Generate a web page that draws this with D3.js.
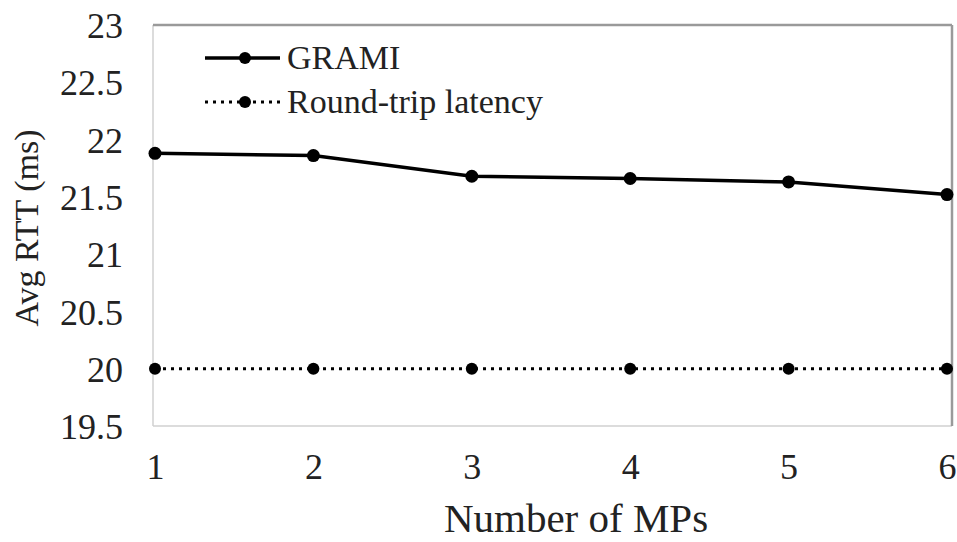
<!DOCTYPE html>
<html><head><meta charset="utf-8">
<script src="https://cdn.jsdelivr.net/npm/d3@7"></script>
</head><body style="margin:0;background:#fff"><svg id="c" width="957" height="542" style="display:block"></svg>
<script>
const categories = [1, 2, 3, 4, 5, 6];
const grami = [21.88, 21.86, 21.68, 21.66, 21.63, 21.52];
const rtt = [20, 20, 20, 20, 20, 20];
const yTicks = [19.5, 20, 20.5, 21, 21.5, 22, 22.5, 23];
const seriesNames = ["GRAMI", "Round-trip latency"];

const FONT = "Liberation Serif";
const svg = d3.select("#c");
const x = d3.scaleLinear().domain([1, 6]).range([155, 947]);
const y = d3.scaleLinear().domain([19.5, 23]).range([426, 25]);

function txt(sel){ return sel.attr("font-family", FONT).style("font-family", `"${FONT}"`).attr("fill","#222"); }

// frame
svg.append("line").attr("x1",153).attr("x2",153).attr("y1",25).attr("y2",426).attr("stroke","#d0d0d0").attr("stroke-width",1.5);
svg.append("line").attr("x1",153).attr("x2",952).attr("y1",426).attr("y2",426).attr("stroke","#d0d0d0").attr("stroke-width",1.5);
svg.append("line").attr("x1",153).attr("x2",952).attr("y1",25).attr("y2",25).attr("stroke","#9a9a9a").attr("stroke-width",2.5);
svg.append("line").attr("x1",952).attr("x2",952).attr("y1",25).attr("y2",426).attr("stroke","#9a9a9a").attr("stroke-width",2.5);

// y ticks
const yAxis = svg.append("g").attr("transform","translate(123,0)")
  .call(d3.axisLeft(y).tickValues(yTicks).tickSize(0).tickPadding(0).tickFormat(d => d3.format("")(d)));
yAxis.attr("font-family", FONT);
yAxis.select(".domain").remove();
txt(yAxis.selectAll("text").attr("font-size",36).attr("dy","0.35em"));

// x ticks
const xAxis = svg.append("g").attr("transform","translate(0,479)")
  .call(d3.axisBottom(x).tickValues(categories).tickSize(0).tickPadding(0).tickFormat(d3.format("d")));
xAxis.attr("font-family", FONT);
xAxis.select(".domain").remove();
txt(xAxis.selectAll("text").attr("font-size",36).attr("dy",0));

// axis titles
txt(svg.append("text").attr("x",576).attr("y",532).attr("text-anchor","middle").attr("font-size",41)).text("Number of MPs");
txt(svg.append("text").attr("transform","translate(38,228) rotate(-90)").attr("text-anchor","middle").attr("font-size",34)).text("Avg RTT (ms)");

const line = d3.line().x((d,i) => x(categories[i])).y(d => y(d));

// latency dotted
svg.append("path").datum(rtt).attr("d",line).attr("fill","none").attr("stroke","#000")
  .attr("stroke-width",3).attr("stroke-dasharray","3,5");
svg.selectAll("circle.r").data(rtt).enter().append("circle").attr("class","r")
  .attr("cx",(d,i)=>x(categories[i])).attr("cy",d=>y(d)).attr("r",6).attr("fill","#000");

// GRAMI
svg.append("path").datum(grami).attr("d",line).attr("fill","none").attr("stroke","#000").attr("stroke-width",3.5);
svg.selectAll("circle.g").data(grami).enter().append("circle").attr("class","g")
  .attr("cx",(d,i)=>x(categories[i])).attr("cy",d=>y(d)).attr("r",6.5).attr("fill","#000");

// legend
const lg = [{y:58, dash:null, w:3.5}, {y:102, dash:"3,5", w:3}];
lg.forEach((l,i) => {
  svg.append("line").attr("x1",205).attr("x2",280).attr("y1",l.y).attr("y2",l.y)
    .attr("stroke","#000").attr("stroke-width",l.w).attr("stroke-dasharray",l.dash);
  svg.append("circle").attr("cx",245).attr("cy",l.y).attr("r",6).attr("fill","#000");
  txt(svg.append("text").attr("x",287).attr("y",l.y+11).attr("font-size",34)).text(seriesNames[i]);
});
</script></body></html>
